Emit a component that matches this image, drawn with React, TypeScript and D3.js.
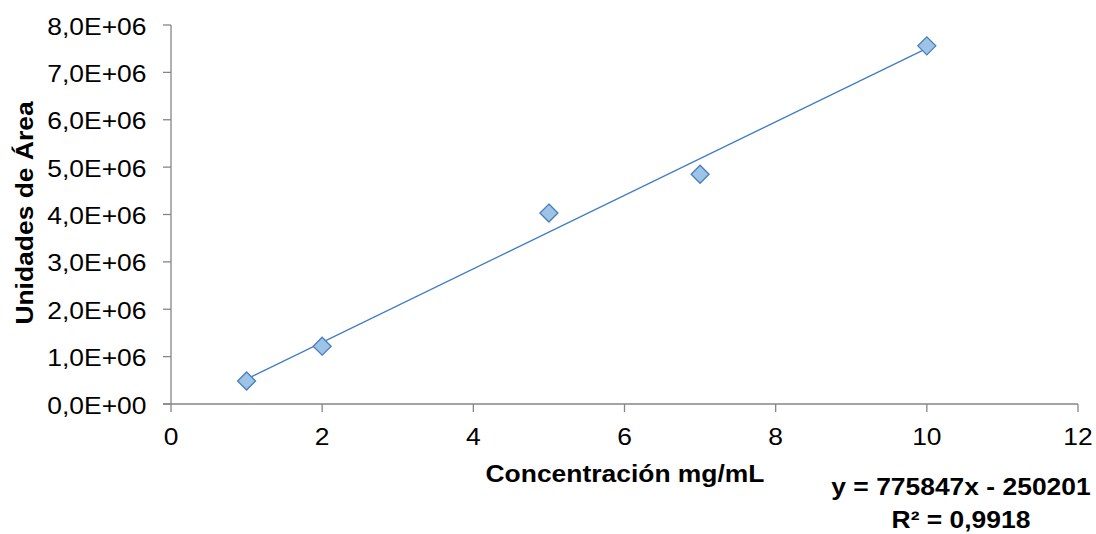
import React from "react";
import * as d3 from "d3";

const concentrations = [1, 2, 5, 7, 10];
const areas = [485000, 1220000, 4030000, 4850000, 7560000];
const xTicks = [0, 2, 4, 6, 8, 10, 12];
const yTicks = [0, 1e6, 2e6, 3e6, 4e6, 5e6, 6e6, 7e6, 8e6];
const slope = 775847;
const intercept = -250201;
const equationLabel = "y = 775847x - 250201";
const r2Label = "R² = 0,9918";
const xTitle = "Concentración mg/mL";
const yTitle = "Unidades de Área";

const W = 1096;
const H = 534;
const left = 171;
const right = 1078;
const top = 25;
const bottom = 404;
const FS = 23.5;
const SX = 1.125;

const fmtY = (v: number) => {
  if (v === 0) return "0,0E+00";
  return (v / 1e6).toFixed(1).replace(".", ",") + "E+06";
};

function Txt(props: {
  x: number;
  y: number;
  anchor: "start" | "middle" | "end";
  bold?: boolean;
  rotate?: number;
  children: React.ReactNode;
}) {
  const { x, y, anchor, bold, rotate, children } = props;
  return (
    <text
      transform={`translate(${x},${y})${rotate ? ` rotate(${rotate})` : ""} scale(${SX},1)`}
      textAnchor={anchor}
      fontSize={FS}
      fontWeight={bold ? "bold" : "normal"}
      fill="#000"
    >
      {children}
    </text>
  );
}

export default function App() {
  const x = d3.scaleLinear().domain([0, 12]).range([left, right]);
  const y = d3.scaleLinear().domain([0, 8e6]).range([bottom, top]);
  const axisColor = "#868686";
  const font = "Liberation Sans, Arial, sans-serif";
  const xMin = d3.min(concentrations)!;
  const xMax = d3.max(concentrations)!;
  const line = d3
    .line<number>()
    .x((d) => x(d))
    .y((d) => y(slope * d + intercept));
  const s = 9;
  return (
    <svg
      width={W}
      height={H}
      style={{ position: "absolute", left: 0, top: 0, background: "#fff" }}
      fontFamily={font}
    >
      <line x1={left} x2={left} y1={top} y2={bottom} stroke={axisColor} strokeWidth={1.3} />
      <line x1={left - 8} x2={right} y1={bottom} y2={bottom} stroke={axisColor} strokeWidth={1.3} />
      {yTicks.map((t) => (
        <g key={"y" + t}>
          <line x1={left - 8} x2={left} y1={y(t)} y2={y(t)} stroke={axisColor} strokeWidth={1.3} />
          <Txt x={146.5} y={y(t) + 9.5} anchor="end">
            {fmtY(t)}
          </Txt>
        </g>
      ))}
      {xTicks.map((t) => (
        <g key={"x" + t}>
          <line x1={x(t)} x2={x(t)} y1={bottom} y2={bottom + 8} stroke={axisColor} strokeWidth={1.3} />
          <Txt x={x(t)} y={445} anchor="middle">
            {t}
          </Txt>
        </g>
      ))}
      <path d={line([xMin, xMax]) || ""} fill="none" stroke="#3d7cc9" strokeWidth={1.3} />
      {concentrations.map((c, i) => {
        const cx = x(c);
        const cy = y(areas[i]);
        return (
          <path
            key={"m" + i}
            d={`M${cx},${cy - s}L${cx + s},${cy}L${cx},${cy + s}L${cx - s},${cy}Z`}
            fill="#9dc3e6"
            stroke="#4a7ebb"
            strokeWidth={1.3}
          />
        );
      })}
      <Txt x={625} y={482} anchor="middle" bold>
        {xTitle}
      </Txt>
      <Txt x={33} y={213} anchor="middle" bold rotate={-90}>
        {yTitle}
      </Txt>
      <Txt x={961} y={495} anchor="middle" bold>
        {equationLabel}
      </Txt>
      <Txt x={961} y={528} anchor="middle" bold>
        {r2Label}
      </Txt>
    </svg>
  );
}
